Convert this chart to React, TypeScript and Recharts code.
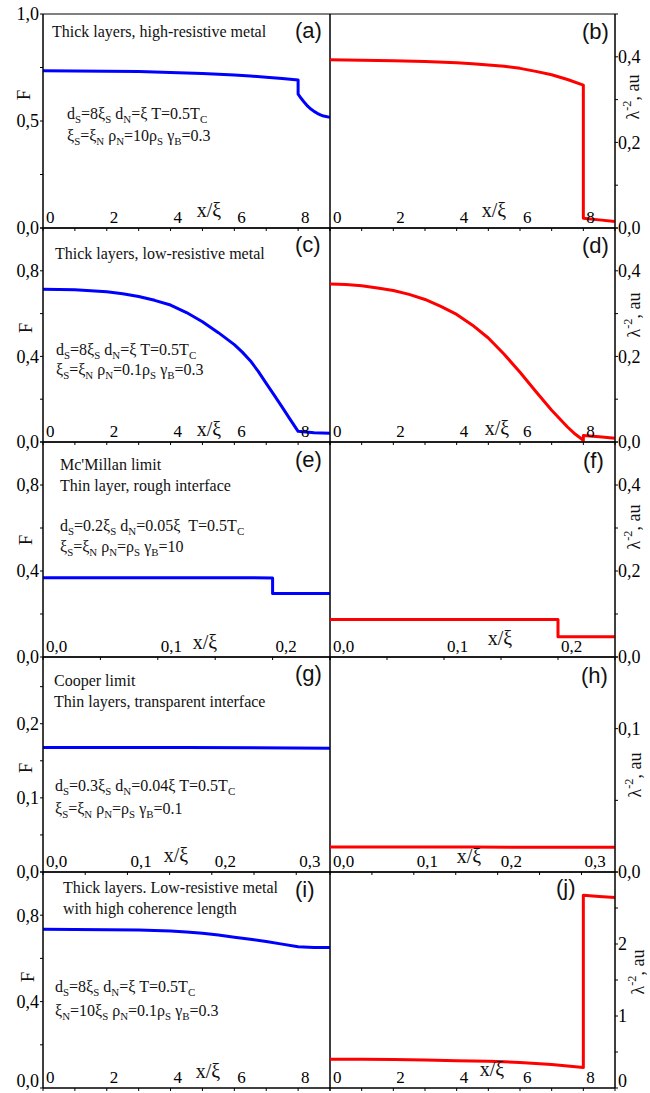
import React from 'react';
import { LineChart, Line, XAxis, YAxis, ReferenceArea } from 'recharts';

// ---------- data ----------
// (a) F, thick layers, high-resistive metal
const aX = [0, 1, 2, 3, 4, 5, 5.5, 6, 6.5, 7, 7.5, 8, 8, 8.1, 8.2, 8.3, 8.4, 8.5, 8.6, 8.7, 8.8, 9];
const aF = [0.735, 0.734, 0.733, 0.731, 0.727, 0.722, 0.719, 0.715, 0.71, 0.705, 0.699, 0.692, 0.626, 0.605, 0.586, 0.569, 0.556, 0.545, 0.536, 0.529, 0.523, 0.517];
// (b) lambda^-2
const bX = [0, 1, 2, 3, 4, 4.5, 5, 5.5, 6, 6.5, 7, 7.5, 8, 8, 8.5, 9];
const bL = [0.393, 0.392, 0.391, 0.389, 0.386, 0.384, 0.381, 0.378, 0.373, 0.366, 0.358, 0.347, 0.334, 0.023, 0.019, 0.015];
// (c) F, thick layers, low-resistive metal
const cX = [0, 0.5, 1, 1.5, 2, 2.5, 3, 3.5, 4, 4.5, 5, 5.5, 6, 6.25, 6.5, 6.75, 7, 7.25, 7.5, 7.75, 8, 8.5, 9];
const cF = [0.714, 0.713, 0.711, 0.707, 0.702, 0.693, 0.68, 0.662, 0.64, 0.605, 0.562, 0.511, 0.455, 0.42, 0.38, 0.33, 0.274, 0.219, 0.163, 0.106, 0.05, 0.043, 0.041];
// (d) lambda^-2
const dX = [0, 0.5, 1, 1.5, 2, 2.5, 3, 3.5, 4, 4.5, 5, 5.5, 6, 6.5, 7, 7.5, 7.75, 8, 8, 8.5, 9];
const dL = [0.369, 0.368, 0.365, 0.36, 0.354, 0.345, 0.333, 0.317, 0.298, 0.273, 0.243, 0.205, 0.163, 0.118, 0.074, 0.035, 0.018, 0.004, 0.015, 0.012, 0.009];
// (e) F, Mc'Millan limit
const eX = [0, 0.1, 0.2, 0.2, 0.25];
const eF = [0.369, 0.369, 0.368, 0.295, 0.295];
// (f) lambda^-2
const fX = [0, 0.1, 0.2, 0.2, 0.25];
const fL = [0.087, 0.087, 0.087, 0.047, 0.047];
// (g) F, Cooper limit
const gX = [0, 0.17, 0.34];
const gF = [0.168, 0.168, 0.167];
// (h) lambda^-2
const hX = [0, 0.17, 0.34];
const hL = [0.0175, 0.0174, 0.0172];
// (i) F, high coherence length
const iX = [0, 1, 2, 3, 4, 4.5, 5, 5.5, 6, 6.5, 7, 7.5, 8, 8.5, 9];
const iF = [0.735, 0.734, 0.733, 0.731, 0.727, 0.722, 0.716, 0.708, 0.698, 0.689, 0.678, 0.666, 0.654, 0.651, 0.65];
// (j) lambda^-2
const jX = [0, 1, 2, 3, 4, 5, 5.5, 6, 6.5, 7, 7.5, 8, 8, 8.5, 9];
const jL = [0.4, 0.398, 0.395, 0.389, 0.38, 0.37, 0.363, 0.354, 0.341, 0.325, 0.306, 0.284, 2.678, 2.66, 2.645];

// ---------- ticks ----------
const thickXTicks = [0, 1, 2, 3, 4, 5, 6, 7, 8, 9];
const thickXLabels = [0, 2, 4, 6, 8];
const mcXTicks = [0, 0.05, 0.1, 0.15, 0.2, 0.25];
const mcXLabels = [0, 0.1, 0.2];
const coXTicks = [0, 0.05, 0.1, 0.15, 0.2, 0.25, 0.3];
const coXLabels = [0, 0.1, 0.2, 0.3];

const aYTicks = [0, 0.25, 0.5, 0.75, 1.0];
const aYLabels = [0, 0.5, 1.0];
const fYTicks = [0, 0.2, 0.4, 0.6, 0.8, 1.0];
const fYLabels = [0, 0.4, 0.8];
const gYTicks = [0, 0.05, 0.1, 0.15, 0.2, 0.25];
const gYLabels = [0, 0.1, 0.2];
const lYTicks = [0, 0.1, 0.2, 0.3, 0.4, 0.5];
const lYLabels = [0, 0.2, 0.4];
const hYTicks = [0, 0.05, 0.1, 0.15];
const hYLabels = [0, 0.1];
const jYTicks = [0, 0.5, 1, 1.5, 2, 2.5, 3];
const jYLabels = [0, 1, 2];

// ---------- layout ----------
const ROW_TOP = [14, 228, 442, 657, 872];
const ROW_BOT = [228, 442, 657, 872, 1088];
const PAD = 12;
const SERIF = '"Liberation Serif", "Times New Roman", serif';
const SANS = '"Liberation Sans", Arial, sans-serif';
const BLUE = '#0000ff';
const RED = '#ff0000';

const comma1 = (v: number) => v.toFixed(1).replace('.', ',');
const intFmt = (v: number) => String(Math.round(v));
const isIn = (arr: number[], v: number) => arr.some((a) => Math.abs(a - v) < 1e-9);

type PanelProps = {
  side: 'left' | 'right';
  row: number;
  xs: number[];
  ys: number[];
  color: string;
  xDomain: [number, number];
  xTicks: number[];
  xLabeled: number[];
  xFmt: (v: number) => string;
  yDomain: [number, number];
  yTicks: number[];
  yLabeled: number[];
  yFmt: (v: number) => string;
};

function Panel(p: PanelProps) {
  const top = ROW_TOP[p.row];
  const h = ROW_BOT[p.row] - top;
  const H = h + 2 * PAD;
  const isLeft = p.side === 'left';
  const left = isLeft ? 0 : 329;
  const W = isLeft ? 331 : 321;
  const data = p.xs.map((x, i) => ({ x, y: p.ys[i] }));
  const plotBottom = PAD + h;
  const lastRow = p.row === ROW_TOP.length - 1;

  const xTick = (t: any) =>
    isIn(p.xLabeled, t.payload.value) ? (
      <text x={t.x + 3} y={plotBottom - 5} fontSize={17} fontFamily={SERIF} fill="#000">
        {p.xFmt(t.payload.value)}
      </text>
    ) : (
      <g />
    );
  const yTick = (t: any) => {
    if (!isIn(p.yLabeled, t.payload.value)) return <g />;
    const atBottomEdge = lastRow && Math.abs(t.payload.value - p.yDomain[0]) < 1e-9;
    return (
      <text
        x={t.x}
        y={atBottomEdge ? t.y - 7 : t.y}
        dy="0.35em"
        textAnchor={isLeft ? 'end' : 'start'}
        fontSize={18}
        fontFamily={SERIF}
        fill="#000"
      >
        {p.yFmt(t.payload.value)}
      </text>
    );
  };

  return (
    <div style={{ position: 'absolute', left, top: top - PAD, width: W, height: H }}>
      <LineChart
        width={W}
        height={H}
        data={data}
        margin={{ top: PAD, bottom: 0, left: isLeft ? 0 : 1, right: isLeft ? 1 : 0 }}
      >
        <XAxis
          dataKey="x"
          type="number"
          domain={p.xDomain}
          ticks={p.xTicks}
          interval={0}
          height={PAD}
          tickSize={3}
          tickLine={{ stroke: '#000' }}
          axisLine={{ stroke: '#000' }}
          tick={xTick}
        />
        <YAxis
          type="number"
          orientation={p.side}
          width={isLeft ? 43 : 35}
          domain={p.yDomain}
          ticks={p.yTicks}
          interval={0}
          tickSize={3}
          tickMargin={isLeft ? 1 : 0}
          tickLine={{ stroke: '#000' }}
          axisLine={{ stroke: '#000' }}
          tick={yTick}
        />
        <ReferenceArea
          x1={p.xDomain[0]}
          x2={p.xDomain[1]}
          y1={p.yDomain[0]}
          y2={p.yDomain[1]}
          fill="none"
          fillOpacity={0}
          stroke="#000"
          strokeWidth={1}
          ifOverflow="visible"
        />
        <Line
          dataKey="y"
          type="linear"
          stroke={p.color}
          strokeWidth={3}
          strokeLinejoin="round"
          dot={false}
          isAnimationActive={false}
        />
      </LineChart>
    </div>
  );
}

// ---------- rich text (sub/superscripts) ----------
function Rich({
  x,
  y,
  s,
  size = 16,
  anchor = 'start',
  rotate,
  family = SERIF,
}: {
  x: number;
  y: number;
  s: string;
  size?: number;
  anchor?: string;
  rotate?: number;
  family?: string;
}) {
  const parts = s.split(/(_\{[^}]*\}|\^\{[^}]*\})/).filter((q) => q.length > 0);
  let shift = 0;
  const spans = parts.map((q, i) => {
    let kind = 'n';
    let txt = q;
    if (q.startsWith('_{')) {
      kind = 's';
      txt = q.slice(2, -1);
    } else if (q.startsWith('^{')) {
      kind = 'p';
      txt = q.slice(2, -1);
    }
    const target = kind === 's' ? size * 0.28 : kind === 'p' ? -size * 0.42 : 0;
    const dy = target - shift;
    shift = target;
    return (
      <tspan key={i} dy={dy} fontSize={kind === 'n' ? size : size * 0.68}>
        {txt}
      </tspan>
    );
  });
  return (
    <text
      x={x}
      y={y}
      fontSize={size}
      fontFamily={family}
      fill="#111"
      textAnchor={anchor as any}
      style={{ whiteSpace: 'pre' }}
      transform={rotate !== undefined ? `rotate(${rotate} ${x} ${y})` : undefined}
    >
      {spans}
    </text>
  );
}

const notes: { x: number; y: number; s: string }[] = [
  { x: 52, y: 37, s: 'Thick layers, high-resistive metal' },
  { x: 67, y: 119, s: 'd_{S}=8ξ_{S} d_{N}=ξ T=0.5T_{C}' },
  { x: 67, y: 141, s: 'ξ_{S}=ξ_{N} ρ_{N}=10ρ_{S} γ_{B}=0.3' },
  { x: 55, y: 259, s: 'Thick layers, low-resistive metal' },
  { x: 56, y: 355, s: 'd_{S}=8ξ_{S} d_{N}=ξ T=0.5T_{C}' },
  { x: 56, y: 375, s: 'ξ_{S}=ξ_{N} ρ_{N}=0.1ρ_{S} γ_{B}=0.3' },
  { x: 60, y: 470, s: "Mc'Millan limit" },
  { x: 60, y: 491, s: 'Thin layer, rough interface' },
  { x: 60, y: 531, s: 'd_{S}=0.2ξ_{S} d_{N}=0.05ξ  T=0.5T_{C}' },
  { x: 60, y: 552, s: 'ξ_{S}=ξ_{N} ρ_{N}=ρ_{S} γ_{B}=10' },
  { x: 54, y: 686, s: 'Cooper limit' },
  { x: 54, y: 707, s: 'Thin layers, transparent interface' },
  { x: 55, y: 791, s: 'd_{S}=0.3ξ_{S} d_{N}=0.04ξ T=0.5T_{C}' },
  { x: 55, y: 814, s: 'ξ_{S}=ξ_{N} ρ_{N}=ρ_{S} γ_{B}=0.1' },
  { x: 63, y: 893, s: 'Thick layers. Low-resistive metal' },
  { x: 63, y: 914, s: 'with high coherence length' },
  { x: 55, y: 992, s: 'd_{S}=8ξ_{S} d_{N}=ξ T=0.5T_{C}' },
  { x: 55, y: 1016, s: 'ξ_{N}=10ξ_{S} ρ_{N}=0.1ρ_{S} γ_{B}=0.3' },
];

const panelTags: { x: number; y: number; s: string }[] = [
  { x: 295, y: 38, s: '(a)' },
  { x: 582, y: 39, s: '(b)' },
  { x: 295, y: 252, s: '(c)' },
  { x: 582, y: 253, s: '(d)' },
  { x: 295, y: 467, s: '(e)' },
  { x: 583, y: 468, s: '(f)' },
  { x: 295, y: 681, s: '(g)' },
  { x: 581, y: 683, s: '(h)' },
  { x: 295, y: 897, s: '(i)' },
  { x: 556, y: 895, s: '(j)' },
];

const xLabelPos: { x: number; y: number }[] = [
  { x: 209, y: 217 },
  { x: 494, y: 217 },
  { x: 209, y: 436 },
  { x: 497, y: 435 },
  { x: 205, y: 649 },
  { x: 500, y: 645 },
  { x: 176, y: 862 },
  { x: 469, y: 863 },
  { x: 208, y: 1078 },
  { x: 492, y: 1076 },
];

const fLabelPos: { x: number; y: number }[] = [
  { x: 23, y: 95 },
  { x: 25, y: 328 },
  { x: 25, y: 540 },
  { x: 25, y: 768 },
  { x: 27, y: 977 },
];

const lamLabelPos: { x: number; y: number }[] = [
  { x: 633, y: 97 },
  { x: 634, y: 315 },
  { x: 634, y: 527 },
  { x: 635, y: 775 },
  { x: 638, y: 972 },
];

export default function App() {
  return (
    <div style={{ position: 'absolute', left: 0, top: 0, width: 650, height: 1093, background: '#fff' }}>
      <Panel side="left" row={0} xs={aX} ys={aF} color={BLUE} xDomain={[0, 9]} xTicks={thickXTicks} xLabeled={thickXLabels} xFmt={intFmt} yDomain={[0, 1]} yTicks={aYTicks} yLabeled={aYLabels} yFmt={comma1} />
      <Panel side="right" row={0} xs={bX} ys={bL} color={RED} xDomain={[0, 9]} xTicks={thickXTicks} xLabeled={thickXLabels} xFmt={intFmt} yDomain={[0, 0.5]} yTicks={lYTicks} yLabeled={lYLabels} yFmt={comma1} />
      <Panel side="left" row={1} xs={cX} ys={cF} color={BLUE} xDomain={[0, 9]} xTicks={thickXTicks} xLabeled={thickXLabels} xFmt={intFmt} yDomain={[0, 1]} yTicks={fYTicks} yLabeled={fYLabels} yFmt={comma1} />
      <Panel side="right" row={1} xs={dX} ys={dL} color={RED} xDomain={[0, 9]} xTicks={thickXTicks} xLabeled={thickXLabels} xFmt={intFmt} yDomain={[0, 0.5]} yTicks={lYTicks} yLabeled={lYLabels} yFmt={comma1} />
      <Panel side="left" row={2} xs={eX} ys={eF} color={BLUE} xDomain={[0, 0.25]} xTicks={mcXTicks} xLabeled={mcXLabels} xFmt={comma1} yDomain={[0, 1]} yTicks={fYTicks} yLabeled={fYLabels} yFmt={comma1} />
      <Panel side="right" row={2} xs={fX} ys={fL} color={RED} xDomain={[0, 0.25]} xTicks={mcXTicks} xLabeled={mcXLabels} xFmt={comma1} yDomain={[0, 0.5]} yTicks={lYTicks} yLabeled={lYLabels} yFmt={comma1} />
      <Panel side="left" row={3} xs={gX} ys={gF} color={BLUE} xDomain={[0, 0.34]} xTicks={coXTicks} xLabeled={coXLabels} xFmt={comma1} yDomain={[0, 0.29]} yTicks={gYTicks} yLabeled={gYLabels} yFmt={comma1} />
      <Panel side="right" row={3} xs={hX} ys={hL} color={RED} xDomain={[0, 0.34]} xTicks={coXTicks} xLabeled={coXLabels} xFmt={comma1} yDomain={[0, 0.15]} yTicks={hYTicks} yLabeled={hYLabels} yFmt={comma1} />
      <Panel side="left" row={4} xs={iX} ys={iF} color={BLUE} xDomain={[0, 9]} xTicks={thickXTicks} xLabeled={thickXLabels} xFmt={intFmt} yDomain={[0, 1]} yTicks={fYTicks} yLabeled={fYLabels} yFmt={comma1} />
      <Panel side="right" row={4} xs={jX} ys={jL} color={RED} xDomain={[0, 9]} xTicks={thickXTicks} xLabeled={thickXLabels} xFmt={intFmt} yDomain={[0, 3]} yTicks={jYTicks} yLabeled={jYLabels} yFmt={intFmt} />

      <svg
        width={650}
        height={1093}
        style={{ position: 'absolute', left: 0, top: 0, pointerEvents: 'none' }}
      >
        {notes.map((n, i) => (
          <Rich key={'n' + i} x={n.x} y={n.y} s={n.s} size={16} />
        ))}
        {panelTags.map((t, i) => (
          <text key={'t' + i} x={t.x} y={t.y} fontSize={22} fontFamily={SANS} fill="#111">
            {t.s}
          </text>
        ))}
        {xLabelPos.map((q, i) => (
          <text key={'x' + i} x={q.x} y={q.y} fontSize={20} fontFamily={SERIF} textAnchor="middle" fill="#111">
            x/ξ
          </text>
        ))}
        {fLabelPos.map((q, i) => (
          <text
            key={'f' + i}
            x={q.x}
            y={q.y}
            fontSize={19}
            fontFamily={SERIF}
            textAnchor="middle"
            dominantBaseline="central"
            fill="#111"
            transform={`rotate(-90 ${q.x} ${q.y})`}
          >
            F
          </text>
        ))}
        {lamLabelPos.map((q, i) => (
          <Rich key={'l' + i} x={q.x + 6} y={q.y} s={'λ^{-2}, au'} size={18} anchor="middle" rotate={-90} />
        ))}
      </svg>
    </div>
  );
}
